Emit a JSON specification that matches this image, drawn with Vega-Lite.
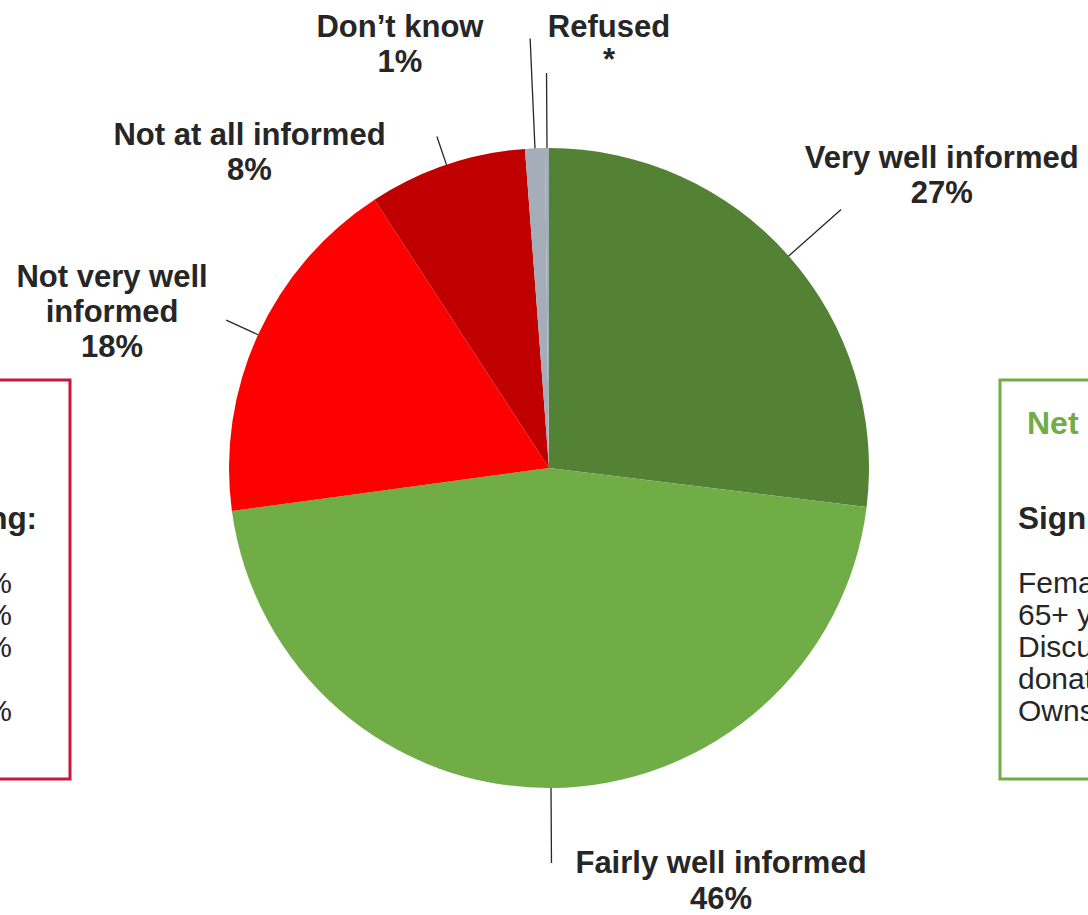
{
  "$schema": "https://vega.github.io/schema/vega-lite/v6.json",
  "padding": {"left": -466, "right": -434, "top": 0, "bottom": -4},
  "background": "white",
  "spacing": 0,
  "bounds": "flush",
  "config": {"view": {"stroke": null}, "font": "Liberation Sans"},
  "datasets": {
    "pie": [
      {"response": "Very well informed", "value": 27, "label": "Very well informed\n27%", "rank": 1},
      {"response": "Fairly well informed", "value": 46, "label": "Fairly well informed\n46%", "rank": 2},
      {"response": "Not very well informed", "value": 18, "label": "Not very well\ninformed\n18%", "rank": 3},
      {"response": "Not at all informed", "value": 8, "label": "Not at all informed\n8%", "rank": 4},
      {"response": "Don’t know", "value": 1, "label": "Don’t know\n1%", "rank": 5},
      {"response": "Refused", "value": 0.2, "label": "Refused\n*", "rank": 6}
    ],
    "spacer": [{"blank": ""}],
    "leftBox": [
      {"kind": "title", "row": 0, "text": "Net not informed: 26%"},
      {"kind": "sub", "row": 3, "text": "Significantly more likely among:"},
      {"kind": "value", "row": 5, "text": "%"},
      {"kind": "value", "row": 6, "text": "%"},
      {"kind": "value", "row": 7, "text": "%"},
      {"kind": "value", "row": 9, "text": "%"}
    ],
    "rightBox": [
      {"kind": "title", "row": 0, "text": "Net informed: 73%"},
      {"kind": "sub", "row": 3, "text": "Significantly more likely among:"},
      {"kind": "item", "row": 5, "text": "Female"},
      {"kind": "item", "row": 6, "text": "65+ years"},
      {"kind": "item", "row": 7, "text": "Discussed organ"},
      {"kind": "item", "row": 8, "text": "donation with family"},
      {"kind": "item", "row": 9, "text": "Owns a donor card"}
    ]
  },
  "vconcat": [
    {"width": 1000, "height": 380, "data": {"name": "spacer"}, "mark": {"type": "text", "text": ""}},
    {
      "spacing": 0,
      "bounds": "flush",
      "hconcat": [
        {
          "width": 534, "height": 399,
          "view": {"stroke": "#C8163C", "strokeWidth": 3},
          "data": {"name": "leftBox"},
          "encoding": {
            "y": {"field": "row", "type": "quantitative", "axis": null, "scale": {"domain": [-1.375, 11.094], "reverse": true, "zero": false, "nice": false}},
            "text": {"field": "text", "type": "nominal"}
          },
          "layer": [
            {"transform": [{"filter": "datum.kind === 'title'"}], "mark": {"type": "text", "align": "left", "baseline": "middle", "fontSize": 32, "fontWeight": "bold", "color": "#C8163C", "x": 18}},
            {"transform": [{"filter": "datum.kind === 'sub'"}], "mark": {"type": "text", "align": "left", "baseline": "middle", "fontSize": 31.5, "fontWeight": "bold", "color": "#262626", "x": 18}},
            {"transform": [{"filter": "datum.kind === 'value'"}], "mark": {"type": "text", "align": "right", "baseline": "middle", "fontSize": 30, "color": "#262626", "x": 476}}
          ]
        },
        {"width": 28, "height": 10, "data": {"name": "spacer"}, "mark": {"type": "text", "text": ""}},
        {
          "width": 902, "height": 176,
          "data": {"name": "pie"},
          "encoding": {
            "theta": {"field": "value", "type": "quantitative", "stack": true},
            "order": {"field": "rank", "type": "quantitative", "sort": "ascending"},
            "detail": {"field": "response", "type": "nominal"}
          },
          "layer": [
            {
              "mark": {"type": "arc", "outerRadius": 320},
              "encoding": {
                "color": {"field": "response", "type": "nominal", "legend": null,
                  "scale": {"domain": ["Very well informed", "Fairly well informed", "Not very well informed", "Not at all informed", "Don’t know", "Refused"],
                            "range": ["#548235", "#70AD47", "#FF0000", "#C00000", "#A5ADB8", "#A5ADB8"]}}
              }
            },
            {"mark": {"type": "arc", "innerRadius": 320, "outerRadius": 390, "padAngle": 3.1416, "filled": false, "color": "#262626", "strokeWidth": 1.3},
             "encoding": {"strokeOpacity": {"condition": {"test": "datum.response === 'Very well informed'", "value": 1}, "value": 0}}},
            {"mark": {"type": "arc", "innerRadius": 320, "outerRadius": 395, "padAngle": 3.1416, "filled": false, "color": "#262626", "strokeWidth": 1.3},
             "encoding": {"strokeOpacity": {"condition": {"test": "datum.response === 'Fairly well informed'", "value": 1}, "value": 0}}},
            {"mark": {"type": "arc", "innerRadius": 320, "outerRadius": 355, "padAngle": 3.1416, "filled": false, "color": "#262626", "strokeWidth": 1.3},
             "encoding": {"strokeOpacity": {"condition": {"test": "datum.response === 'Not very well informed'", "value": 1}, "value": 0}}},
            {"mark": {"type": "arc", "innerRadius": 320, "outerRadius": 350, "padAngle": 3.1416, "filled": false, "color": "#262626", "strokeWidth": 1.3},
             "encoding": {"strokeOpacity": {"condition": {"test": "datum.response === 'Not at all informed'", "value": 1}, "value": 0}}},
            {"mark": {"type": "arc", "innerRadius": 320, "outerRadius": 430, "padAngle": 3.1416, "filled": false, "color": "#262626", "strokeWidth": 1.3},
             "encoding": {"strokeOpacity": {"condition": {"test": "datum.response === 'Don’t know'", "value": 1}, "value": 0}}},
            {"mark": {"type": "arc", "innerRadius": 320, "outerRadius": 395, "padAngle": 3.1416, "filled": false, "color": "#262626", "strokeWidth": 1.3},
             "encoding": {"strokeOpacity": {"condition": {"test": "datum.response === 'Refused'", "value": 1}, "value": 0}}},
            {"mark": {"type": "text", "radius": 320, "dx": 153, "dy": -97, "fontSize": 31, "fontWeight": "bold", "lineBreak": "\n", "lineHeight": 35, "align": "center", "baseline": "middle", "color": "#262626"},
             "encoding": {"text": {"field": "label", "type": "nominal", "condition": {"test": "datum.response !== 'Very well informed'", "value": ""}}}},
            {"mark": {"type": "text", "radius": 320, "dx": 170, "dy": 76, "fontSize": 31, "fontWeight": "bold", "lineBreak": "\n", "lineHeight": 36, "align": "center", "baseline": "middle", "color": "#262626"},
             "encoding": {"text": {"field": "label", "type": "nominal", "condition": {"test": "datum.response !== 'Fairly well informed'", "value": ""}}}},
            {"mark": {"type": "text", "radius": 320, "dx": -146, "dy": -57, "fontSize": 31, "fontWeight": "bold", "lineBreak": "\n", "lineHeight": 35, "align": "center", "baseline": "middle", "color": "#262626"},
             "encoding": {"text": {"field": "label", "type": "nominal", "condition": {"test": "datum.response !== 'Not very well informed'", "value": ""}}}},
            {"mark": {"type": "text", "radius": 320, "dx": -197, "dy": -29, "fontSize": 31, "fontWeight": "bold", "lineBreak": "\n", "lineHeight": 35, "align": "center", "baseline": "middle", "color": "#262626"},
             "encoding": {"text": {"field": "label", "type": "nominal", "condition": {"test": "datum.response !== 'Not at all informed'", "value": ""}}}},
            {"mark": {"type": "text", "radius": 320, "dx": -135, "dy": -120, "fontSize": 31, "fontWeight": "bold", "lineBreak": "\n", "lineHeight": 35, "align": "center", "baseline": "middle", "color": "#262626"},
             "encoding": {"text": {"field": "label", "type": "nominal", "condition": {"test": "datum.response !== 'Don’t know'", "value": ""}}}},
            {"mark": {"type": "text", "radius": 320, "dx": 62, "dy": -120, "fontSize": 31, "fontWeight": "bold", "lineBreak": "\n", "lineHeight": 33, "align": "center", "baseline": "middle", "color": "#262626"},
             "encoding": {"text": {"field": "label", "type": "nominal", "condition": {"test": "datum.response !== 'Refused'", "value": ""}}}}
          ]
        },
        {
          "width": 520, "height": 399,
          "view": {"stroke": "#70AD47", "strokeWidth": 3},
          "data": {"name": "rightBox"},
          "encoding": {
            "y": {"field": "row", "type": "quantitative", "axis": null, "scale": {"domain": [-1.375, 11.094], "reverse": true, "zero": false, "nice": false}},
            "text": {"field": "text", "type": "nominal"}
          },
          "layer": [
            {"transform": [{"filter": "datum.kind === 'title'"}], "mark": {"type": "text", "align": "left", "baseline": "middle", "fontSize": 32, "fontWeight": "bold", "color": "#70AD47", "x": 27}},
            {"transform": [{"filter": "datum.kind === 'sub'"}], "mark": {"type": "text", "align": "left", "baseline": "middle", "fontSize": 31.5, "fontWeight": "bold", "color": "#262626", "x": 18}},
            {"transform": [{"filter": "datum.kind === 'item'"}], "mark": {"type": "text", "align": "left", "baseline": "middle", "fontSize": 30, "color": "#262626", "x": 18}}
          ]
        }
      ]
    }
  ]
}
